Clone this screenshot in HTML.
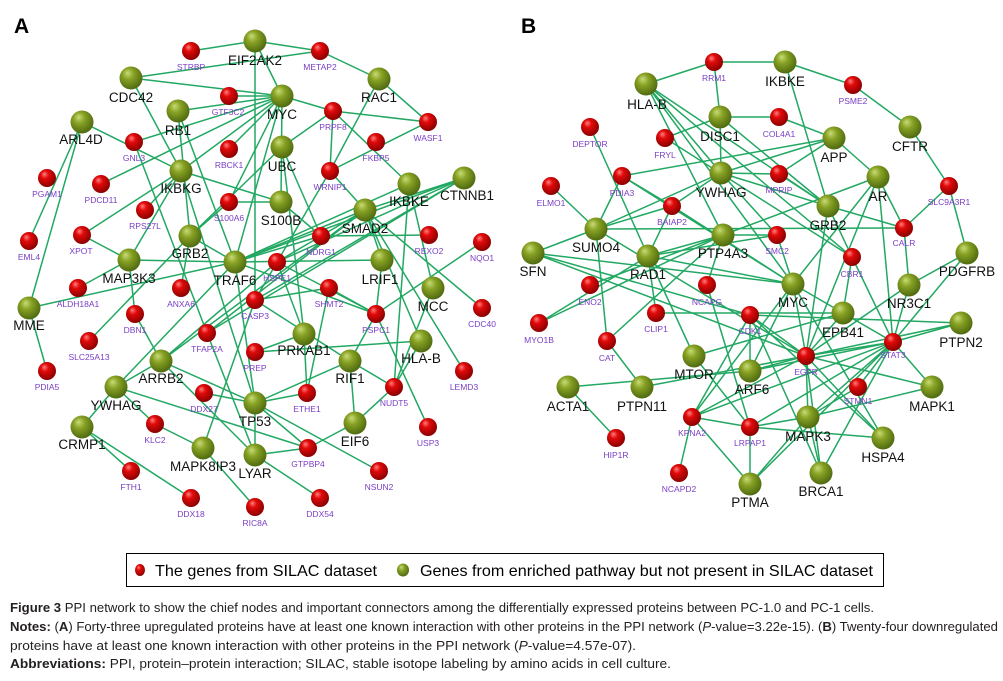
<!DOCTYPE html>
<html><head><meta charset="utf-8"><style>
html,body{margin:0;padding:0;background:#fff;}
svg{display:block;}
</style></head><body>
<svg width="1003" height="681" viewBox="0 0 1003 681" xmlns="http://www.w3.org/2000/svg" font-family="'Liberation Sans', Arial, sans-serif">
<defs>
<radialGradient id="gr" cx="0.42" cy="0.38" r="0.62" fx="0.35" fy="0.28">
<stop offset="0" stop-color="#ff8080"/><stop offset="0.35" stop-color="#e20a0a"/><stop offset="1" stop-color="#8a0000"/></radialGradient>
<radialGradient id="gg" cx="0.42" cy="0.38" r="0.62" fx="0.35" fy="0.28">
<stop offset="0" stop-color="#c8dc78"/><stop offset="0.4" stop-color="#88a224"/><stop offset="1" stop-color="#4f6a10"/></radialGradient>
</defs>
<rect width="1003" height="681" fill="#fff"/>
<text x="14" y="33" font-size="21" font-weight="bold" fill="#000">A</text>
<text x="521" y="33" font-size="21" font-weight="bold" fill="#000">B</text>

<g stroke="#22a862" stroke-width="1.5" fill="none">
<!-- Panel A edges -->
<line x1="191" y1="51" x2="255" y2="41"/><line x1="131" y1="78" x2="320" y2="51"/><line x1="131" y1="78" x2="282" y2="96"/><line x1="131" y1="78" x2="181" y2="171"/>
<line x1="255" y1="41" x2="320" y2="51"/><line x1="255" y1="41" x2="255" y2="300"/><line x1="255" y1="41" x2="282" y2="96"/><line x1="282" y1="96" x2="333" y2="111"/>
<line x1="333" y1="111" x2="428" y2="122"/><line x1="320" y1="51" x2="379" y2="79"/><line x1="379" y1="79" x2="428" y2="122"/><line x1="379" y1="79" x2="330" y2="171"/>
<line x1="333" y1="111" x2="282" y2="147"/><line x1="333" y1="111" x2="330" y2="171"/><line x1="333" y1="111" x2="409" y2="184"/><line x1="330" y1="171" x2="428" y2="122"/>
<line x1="282" y1="96" x2="235" y2="262"/><line x1="282" y1="96" x2="281" y2="202"/><line x1="229" y1="96" x2="282" y2="96"/><line x1="178" y1="111" x2="282" y2="96"/>
<line x1="229" y1="149" x2="282" y2="96"/><line x1="134" y1="142" x2="282" y2="96"/><line x1="181" y1="171" x2="282" y2="96"/><line x1="229" y1="202" x2="282" y2="96"/>
<line x1="101" y1="184" x2="282" y2="96"/><line x1="282" y1="147" x2="321" y2="236"/><line x1="330" y1="171" x2="365" y2="210"/><line x1="330" y1="171" x2="255" y2="300"/>
<line x1="409" y1="184" x2="235" y2="262"/><line x1="409" y1="184" x2="433" y2="288"/><line x1="464" y1="178" x2="365" y2="210"/><line x1="464" y1="178" x2="277" y2="262"/>
<line x1="464" y1="178" x2="255" y2="300"/><line x1="321" y1="236" x2="429" y2="235"/><line x1="365" y1="210" x2="382" y2="260"/><line x1="365" y1="210" x2="235" y2="262"/>
<line x1="365" y1="210" x2="421" y2="341"/><line x1="365" y1="210" x2="482" y2="308"/><line x1="482" y1="242" x2="376" y2="314"/><line x1="365" y1="210" x2="464" y2="371"/>
<line x1="376" y1="314" x2="428" y2="427"/><line x1="433" y1="288" x2="394" y2="387"/><line x1="421" y1="341" x2="394" y2="387"/><line x1="255" y1="352" x2="421" y2="341"/>
<line x1="304" y1="334" x2="255" y2="352"/><line x1="350" y1="361" x2="394" y2="387"/><line x1="350" y1="361" x2="355" y2="423"/><line x1="350" y1="361" x2="376" y2="314"/>
<line x1="350" y1="361" x2="255" y2="403"/><line x1="350" y1="361" x2="255" y2="300"/><line x1="355" y1="423" x2="394" y2="387"/><line x1="355" y1="423" x2="308" y2="448"/>
<line x1="255" y1="403" x2="307" y2="393"/><line x1="255" y1="403" x2="379" y2="471"/><line x1="255" y1="403" x2="255" y2="455"/><line x1="255" y1="455" x2="308" y2="448"/>
<line x1="255" y1="455" x2="320" y2="498"/><line x1="203" y1="448" x2="255" y2="507"/><line x1="307" y1="393" x2="304" y2="334"/><line x1="329" y1="288" x2="376" y2="314"/>
<line x1="329" y1="288" x2="255" y2="300"/><line x1="277" y1="262" x2="376" y2="314"/><line x1="382" y1="260" x2="376" y2="314"/><line x1="304" y1="334" x2="277" y2="262"/>
<line x1="82" y1="122" x2="29" y2="241"/><line x1="82" y1="122" x2="29" y2="308"/><line x1="82" y1="122" x2="181" y2="171"/><line x1="134" y1="142" x2="207" y2="333"/>
<line x1="178" y1="111" x2="190" y2="236"/><line x1="178" y1="111" x2="235" y2="262"/><line x1="145" y1="210" x2="181" y2="171"/><line x1="82" y1="235" x2="129" y2="260"/>
<line x1="82" y1="235" x2="181" y2="171"/><line x1="190" y1="236" x2="229" y2="202"/><line x1="190" y1="236" x2="282" y2="147"/><line x1="190" y1="236" x2="235" y2="262"/>
<line x1="129" y1="260" x2="181" y2="171"/><line x1="129" y1="260" x2="135" y2="314"/><line x1="129" y1="260" x2="235" y2="262"/><line x1="78" y1="288" x2="129" y2="260"/>
<line x1="29" y1="308" x2="235" y2="262"/><line x1="29" y1="308" x2="47" y2="371"/><line x1="89" y1="341" x2="190" y2="236"/><line x1="135" y1="314" x2="161" y2="361"/>
<line x1="181" y1="288" x2="190" y2="236"/><line x1="207" y1="333" x2="464" y2="178"/><line x1="207" y1="333" x2="365" y2="210"/><line x1="207" y1="333" x2="255" y2="455"/>
<line x1="161" y1="361" x2="116" y2="387"/><line x1="161" y1="361" x2="255" y2="403"/><line x1="161" y1="361" x2="365" y2="210"/><line x1="161" y1="361" x2="255" y2="455"/>
<line x1="116" y1="387" x2="82" y2="427"/><line x1="116" y1="387" x2="155" y2="424"/><line x1="116" y1="387" x2="308" y2="448"/><line x1="116" y1="387" x2="235" y2="262"/>
<line x1="82" y1="427" x2="131" y2="471"/><line x1="82" y1="427" x2="191" y2="498"/><line x1="155" y1="424" x2="203" y2="448"/><line x1="203" y1="448" x2="255" y2="300"/>
<line x1="204" y1="393" x2="255" y2="403"/><line x1="255" y1="403" x2="308" y2="448"/><line x1="161" y1="361" x2="277" y2="262"/><line x1="181" y1="171" x2="281" y2="202"/>
<line x1="181" y1="171" x2="255" y2="403"/><line x1="281" y1="202" x2="321" y2="236"/><line x1="277" y1="262" x2="365" y2="210"/><line x1="321" y1="236" x2="235" y2="262"/>
<line x1="329" y1="288" x2="307" y2="393"/><line x1="235" y1="262" x2="376" y2="314"/><line x1="235" y1="262" x2="255" y2="403"/>
<line x1="229" y1="202" x2="281" y2="202"/><line x1="235" y1="262" x2="382" y2="260"/><line x1="235" y1="262" x2="464" y2="178"/><line x1="282" y1="147" x2="304" y2="334"/><line x1="409" y1="184" x2="394" y2="387"/>
<!-- Panel B edges -->
<line x1="714" y1="62" x2="646" y2="84"/><line x1="714" y1="62" x2="785" y2="62"/><line x1="714" y1="62" x2="720" y2="117"/><line x1="785" y1="62" x2="853" y2="85"/>
<line x1="785" y1="62" x2="828" y2="206"/><line x1="853" y1="85" x2="910" y2="127"/><line x1="910" y1="127" x2="949" y2="186"/><line x1="949" y1="186" x2="967" y2="253"/>
<line x1="949" y1="186" x2="904" y2="228"/><line x1="720" y1="117" x2="779" y2="117"/><line x1="720" y1="117" x2="665" y2="138"/><line x1="720" y1="117" x2="721" y2="173"/>
<line x1="720" y1="117" x2="828" y2="206"/><line x1="779" y1="117" x2="834" y2="138"/><line x1="721" y1="173" x2="779" y2="174"/><line x1="646" y1="84" x2="721" y2="173"/>
<line x1="646" y1="84" x2="828" y2="206"/><line x1="646" y1="84" x2="793" y2="284"/><line x1="646" y1="84" x2="723" y2="235"/><line x1="646" y1="84" x2="852" y2="257"/>
<line x1="590" y1="127" x2="648" y2="256"/><line x1="665" y1="138" x2="852" y2="257"/><line x1="622" y1="176" x2="596" y2="229"/><line x1="622" y1="176" x2="672" y2="206"/>
<line x1="622" y1="176" x2="834" y2="138"/><line x1="622" y1="176" x2="793" y2="284"/><line x1="551" y1="186" x2="596" y2="229"/><line x1="672" y1="206" x2="648" y2="256"/>
<line x1="672" y1="206" x2="721" y2="173"/><line x1="672" y1="206" x2="793" y2="284"/><line x1="721" y1="173" x2="828" y2="206"/><line x1="721" y1="173" x2="834" y2="138"/>
<line x1="721" y1="173" x2="777" y2="235"/><line x1="596" y1="229" x2="904" y2="228"/><line x1="596" y1="229" x2="533" y2="253"/><line x1="596" y1="229" x2="607" y2="341"/>
<line x1="596" y1="229" x2="721" y2="173"/><line x1="596" y1="229" x2="806" y2="356"/><line x1="723" y1="235" x2="878" y2="177"/><line x1="723" y1="235" x2="648" y2="256"/>
<line x1="723" y1="235" x2="539" y2="323"/><line x1="723" y1="235" x2="707" y2="285"/><line x1="723" y1="235" x2="607" y2="341"/><line x1="723" y1="235" x2="777" y2="235"/>
<line x1="723" y1="235" x2="590" y2="285"/><line x1="533" y1="253" x2="793" y2="284"/><line x1="533" y1="253" x2="750" y2="315"/><line x1="533" y1="253" x2="806" y2="356"/>
<line x1="596" y1="229" x2="672" y2="206"/>
<line x1="648" y1="256" x2="694" y2="356"/><line x1="648" y1="256" x2="793" y2="284"/><line x1="648" y1="256" x2="777" y2="235"/><line x1="648" y1="256" x2="656" y2="313"/>
<line x1="539" y1="323" x2="648" y2="256"/><line x1="656" y1="313" x2="843" y2="313"/><line x1="707" y1="285" x2="750" y2="427"/><line x1="607" y1="341" x2="642" y2="387"/>
<line x1="568" y1="387" x2="750" y2="371"/><line x1="568" y1="387" x2="616" y2="438"/><line x1="642" y1="387" x2="806" y2="356"/><line x1="694" y1="356" x2="843" y2="313"/>
<line x1="694" y1="356" x2="750" y2="427"/><line x1="692" y1="417" x2="679" y2="473"/><line x1="692" y1="417" x2="750" y2="427"/><line x1="692" y1="417" x2="750" y2="484"/>
<line x1="692" y1="417" x2="806" y2="356"/><line x1="692" y1="417" x2="893" y2="342"/><line x1="692" y1="417" x2="750" y2="315"/><line x1="692" y1="417" x2="793" y2="284"/>
<line x1="750" y1="427" x2="750" y2="484"/><line x1="750" y1="427" x2="808" y2="417"/><line x1="750" y1="427" x2="883" y2="438"/><line x1="750" y1="427" x2="893" y2="342"/>
<line x1="750" y1="371" x2="806" y2="356"/><line x1="750" y1="371" x2="750" y2="315"/><line x1="750" y1="371" x2="893" y2="342"/><line x1="750" y1="371" x2="793" y2="284"/>
<line x1="750" y1="315" x2="806" y2="356"/><line x1="750" y1="315" x2="883" y2="438"/><line x1="750" y1="315" x2="821" y2="473"/><line x1="750" y1="315" x2="961" y2="323"/>
<line x1="806" y1="356" x2="893" y2="342"/><line x1="806" y1="356" x2="932" y2="387"/><line x1="806" y1="356" x2="961" y2="323"/><line x1="806" y1="356" x2="883" y2="438"/>
<line x1="806" y1="356" x2="808" y2="417"/><line x1="806" y1="356" x2="843" y2="313"/><line x1="806" y1="356" x2="828" y2="206"/><line x1="806" y1="356" x2="793" y2="284"/>
<line x1="806" y1="356" x2="878" y2="177"/><line x1="893" y1="342" x2="961" y2="323"/><line x1="893" y1="342" x2="932" y2="387"/><line x1="893" y1="342" x2="808" y2="417"/>
<line x1="893" y1="342" x2="858" y2="387"/><line x1="893" y1="342" x2="909" y2="285"/><line x1="893" y1="342" x2="878" y2="177"/><line x1="893" y1="342" x2="967" y2="253"/>
<line x1="893" y1="342" x2="821" y2="473"/><line x1="893" y1="342" x2="843" y2="313"/><line x1="893" y1="342" x2="852" y2="257"/><line x1="808" y1="417" x2="932" y2="387"/>
<line x1="808" y1="417" x2="821" y2="473"/><line x1="808" y1="417" x2="750" y2="484"/><line x1="909" y1="285" x2="967" y2="253"/><line x1="909" y1="285" x2="904" y2="228"/>
<line x1="909" y1="285" x2="806" y2="356"/><line x1="904" y1="228" x2="828" y2="206"/><line x1="904" y1="228" x2="878" y2="177"/><line x1="878" y1="177" x2="834" y2="138"/>
<line x1="878" y1="177" x2="793" y2="284"/><line x1="828" y1="206" x2="852" y2="257"/><line x1="828" y1="206" x2="779" y2="174"/><line x1="852" y1="257" x2="843" y2="313"/>
<line x1="777" y1="235" x2="793" y2="284"/><line x1="779" y1="174" x2="834" y2="138"/><line x1="793" y1="284" x2="843" y2="313"/><line x1="858" y1="387" x2="808" y2="417"/>
<line x1="750" y1="484" x2="893" y2="342"/><line x1="821" y1="473" x2="806" y2="356"/><line x1="793" y1="284" x2="883" y2="438"/>
</g>

<!-- Red nodes -->
<g fill="url(#gr)">
<circle cx="191" cy="51" r="9"/><circle cx="320" cy="51" r="9"/><circle cx="229" cy="96" r="9"/><circle cx="333" cy="111" r="9"/><circle cx="428" cy="122" r="9"/>
<circle cx="134" cy="142" r="9"/><circle cx="229" cy="149" r="9"/><circle cx="376" cy="142" r="9"/><circle cx="330" cy="171" r="9"/><circle cx="47" cy="178" r="9"/>
<circle cx="101" cy="184" r="9"/><circle cx="229" cy="202" r="9"/><circle cx="145" cy="210" r="9"/><circle cx="82" cy="235" r="9"/><circle cx="321" cy="236" r="9"/>
<circle cx="429" cy="235" r="9"/><circle cx="29" cy="241" r="9"/><circle cx="482" cy="242" r="9"/><circle cx="277" cy="262" r="9"/><circle cx="78" cy="288" r="9"/>
<circle cx="181" cy="288" r="9"/><circle cx="329" cy="288" r="9"/><circle cx="255" cy="300" r="9"/><circle cx="135" cy="314" r="9"/><circle cx="376" cy="314" r="9"/>
<circle cx="482" cy="308" r="9"/><circle cx="207" cy="333" r="9"/><circle cx="89" cy="341" r="9"/><circle cx="255" cy="352" r="9"/><circle cx="47" cy="371" r="9"/>
<circle cx="464" cy="371" r="9"/><circle cx="394" cy="387" r="9"/><circle cx="204" cy="393" r="9"/><circle cx="307" cy="393" r="9"/><circle cx="155" cy="424" r="9"/>
<circle cx="428" cy="427" r="9"/><circle cx="308" cy="448" r="9"/><circle cx="131" cy="471" r="9"/><circle cx="379" cy="471" r="9"/><circle cx="191" cy="498" r="9"/>
<circle cx="320" cy="498" r="9"/><circle cx="255" cy="507" r="9"/>
<circle cx="714" cy="62" r="9"/><circle cx="853" cy="85" r="9"/><circle cx="779" cy="117" r="9"/><circle cx="590" cy="127" r="9"/><circle cx="665" cy="138" r="9"/>
<circle cx="622" cy="176" r="9"/><circle cx="779" cy="174" r="9"/><circle cx="551" cy="186" r="9"/><circle cx="949" cy="186" r="9"/><circle cx="672" cy="206" r="9"/>
<circle cx="904" cy="228" r="9"/><circle cx="777" cy="235" r="9"/><circle cx="852" cy="257" r="9"/><circle cx="590" cy="285" r="9"/><circle cx="707" cy="285" r="9"/>
<circle cx="750" cy="315" r="9"/><circle cx="656" cy="313" r="9"/><circle cx="539" cy="323" r="9"/><circle cx="607" cy="341" r="9"/><circle cx="893" cy="342" r="9"/>
<circle cx="806" cy="356" r="9"/><circle cx="858" cy="387" r="9"/><circle cx="692" cy="417" r="9"/><circle cx="750" cy="427" r="9"/><circle cx="616" cy="438" r="9"/>
<circle cx="679" cy="473" r="9"/>
</g>
<!-- Green nodes -->
<g fill="url(#gg)">
<circle cx="255" cy="41" r="11.5"/><circle cx="131" cy="78" r="11.5"/><circle cx="178" cy="111" r="11.5"/><circle cx="282" cy="96" r="11.5"/><circle cx="379" cy="79" r="11.5"/>
<circle cx="82" cy="122" r="11.5"/><circle cx="282" cy="147" r="11.5"/><circle cx="181" cy="171" r="11.5"/><circle cx="409" cy="184" r="11.5"/><circle cx="464" cy="178" r="11.5"/>
<circle cx="281" cy="202" r="11.5"/><circle cx="365" cy="210" r="11.5"/><circle cx="190" cy="236" r="11.5"/><circle cx="129" cy="260" r="11.5"/><circle cx="235" cy="262" r="11.5"/>
<circle cx="382" cy="260" r="11.5"/><circle cx="433" cy="288" r="11.5"/><circle cx="29" cy="308" r="11.5"/><circle cx="304" cy="334" r="11.5"/><circle cx="421" cy="341" r="11.5"/>
<circle cx="161" cy="361" r="11.5"/><circle cx="350" cy="361" r="11.5"/><circle cx="116" cy="387" r="11.5"/><circle cx="255" cy="403" r="11.5"/><circle cx="355" cy="423" r="11.5"/>
<circle cx="82" cy="427" r="11.5"/><circle cx="203" cy="448" r="11.5"/><circle cx="255" cy="455" r="11.5"/>
<circle cx="785" cy="62" r="11.5"/><circle cx="646" cy="84" r="11.5"/><circle cx="720" cy="117" r="11.5"/><circle cx="910" cy="127" r="11.5"/><circle cx="834" cy="138" r="11.5"/>
<circle cx="721" cy="173" r="11.5"/><circle cx="878" cy="177" r="11.5"/><circle cx="828" cy="206" r="11.5"/><circle cx="596" cy="229" r="11.5"/><circle cx="723" cy="235" r="11.5"/>
<circle cx="533" cy="253" r="11.5"/><circle cx="967" cy="253" r="11.5"/><circle cx="648" cy="256" r="11.5"/><circle cx="793" cy="284" r="11.5"/><circle cx="909" cy="285" r="11.5"/>
<circle cx="843" cy="313" r="11.5"/><circle cx="961" cy="323" r="11.5"/><circle cx="694" cy="356" r="11.5"/><circle cx="750" cy="371" r="11.5"/><circle cx="568" cy="387" r="11.5"/>
<circle cx="642" cy="387" r="11.5"/><circle cx="932" cy="387" r="11.5"/><circle cx="808" cy="417" r="11.5"/><circle cx="883" cy="438" r="11.5"/><circle cx="821" cy="473" r="11.5"/>
<circle cx="750" cy="484" r="11.5"/>
</g>

<!-- Red labels -->
<g font-size="8.5" fill="#7a3ec6" text-anchor="middle">
<text x="191" y="70">STRBP</text><text x="320" y="70">METAP2</text><text x="228" y="115">GTF3C2</text><text x="333" y="130">PRPF8</text><text x="428" y="141">WASF1</text>
<text x="134" y="161">GNL3</text><text x="229" y="168">RBCK1</text><text x="376" y="161">FKBP5</text><text x="330" y="190">WRNIP1</text><text x="47" y="197">PGAM1</text>
<text x="101" y="203">PDCD11</text><text x="229" y="221">S100A6</text><text x="145" y="229">RPS27L</text><text x="81" y="254">XPOT</text><text x="321" y="255">NDRG1</text>
<text x="429" y="254">REXO2</text><text x="29" y="260">EML4</text><text x="482" y="261">NQO1</text><text x="277" y="281">HSPE1</text><text x="78" y="307">ALDH18A1</text>
<text x="181" y="307">ANXA6</text><text x="329" y="307">SHMT2</text><text x="255" y="319">CASP3</text><text x="135" y="333">DBN1</text><text x="376" y="333">PSPC1</text>
<text x="482" y="327">CDC40</text><text x="207" y="352">TFAP2A</text><text x="89" y="360">SLC25A13</text><text x="255" y="371">PREP</text><text x="47" y="390">PDIA5</text>
<text x="464" y="390">LEMD3</text><text x="394" y="406">NUDT5</text><text x="204" y="412">DDX27</text><text x="307" y="412">ETHE1</text><text x="155" y="443">KLC2</text>
<text x="428" y="446">USP3</text><text x="308" y="467">GTPBP4</text><text x="131" y="490">FTH1</text><text x="379" y="490">NSUN2</text><text x="191" y="517">DDX18</text>
<text x="320" y="517">DDX54</text><text x="255" y="526">RIC8A</text>
<text x="714" y="81">RRM1</text><text x="853" y="104">PSME2</text><text x="779" y="137">COL4A1</text><text x="590" y="147">DEPTOR</text><text x="665" y="158">FRYL</text>
<text x="622" y="196">PDIA3</text><text x="779" y="193">MPRIP</text><text x="551" y="206">ELMO1</text><text x="949" y="205">SLC9A3R1</text><text x="672" y="225">BAIAP2</text>
<text x="904" y="246">CALR</text><text x="777" y="254">SMC2</text><text x="852" y="277">CBR1</text><text x="590" y="305">ENO2</text><text x="707" y="305">NCAPG</text>
<text x="750" y="334">CDK1</text><text x="656" y="332">CLIP1</text><text x="539" y="343">MYO1B</text><text x="607" y="361">CAT</text><text x="893" y="358">STAT3</text>
<text x="806" y="375">EGFR</text><text x="858" y="404">STMN1</text><text x="692" y="436">KPNA2</text><text x="750" y="446">LRPAP1</text><text x="616" y="458">HIP1R</text>
<text x="679" y="492">NCAPD2</text>
</g>
<!-- Green labels -->
<g font-size="13.5" fill="#111" text-anchor="middle">
<text x="255" y="65">EIF2AK2</text><text x="131" y="102">CDC42</text><text x="178" y="135">RB1</text><text x="282" y="119">MYC</text><text x="379" y="102">RAC1</text>
<text x="81" y="144">ARL4D</text><text x="282" y="171">UBC</text><text x="181" y="193">IKBKG</text><text x="409" y="206">IKBKE</text><text x="467" y="200">CTNNB1</text>
<text x="281" y="225">S100B</text><text x="365" y="233">SMAD2</text><text x="190" y="258">GRB2</text><text x="129" y="283">MAP3K3</text><text x="235" y="285">TRAF6</text>
<text x="380" y="284">LRIF1</text><text x="433" y="311">MCC</text><text x="29" y="330">MME</text><text x="304" y="355">PRKAB1</text><text x="421" y="363">HLA-B</text>
<text x="161" y="383">ARRB2</text><text x="350" y="383">RIF1</text><text x="116" y="410">YWHAG</text><text x="255" y="426">TP53</text><text x="355" y="446">EIF6</text>
<text x="82" y="449">CRMP1</text><text x="203" y="471">MAPK8IP3</text><text x="255" y="478">LYAR</text>
<text x="785" y="86">IKBKE</text><text x="647" y="109">HLA-B</text><text x="720" y="141">DISC1</text><text x="910" y="151">CFTR</text><text x="834" y="162">APP</text>
<text x="721" y="197">YWHAG</text><text x="878" y="201">AR</text><text x="828" y="230">GRB2</text><text x="596" y="252">SUMO4</text><text x="723" y="258">PTP4A3</text>
<text x="533" y="276">SFN</text><text x="967" y="276">PDGFRB</text><text x="648" y="279">RAD1</text><text x="793" y="307">MYC</text><text x="909" y="308">NR3C1</text>
<text x="843" y="337">EPB41</text><text x="961" y="347">PTPN2</text><text x="694" y="379">MTOR</text><text x="752" y="394">ARF6</text><text x="568" y="411">ACTA1</text>
<text x="642" y="411">PTPN11</text><text x="932" y="411">MAPK1</text><text x="808" y="441">MAPK3</text><text x="883" y="462">HSPA4</text><text x="821" y="496">BRCA1</text>
<text x="750" y="507">PTMA</text>
</g>

<!-- Legend -->
<rect x="126.5" y="553.5" width="757" height="33" fill="#fff" stroke="#000" stroke-width="1"/>
<ellipse cx="140" cy="570" rx="5" ry="6" fill="url(#gr)"/>
<text x="155" y="576" font-size="16" fill="#000" textLength="222" lengthAdjust="spacingAndGlyphs">The genes from SILAC dataset</text>
<ellipse cx="403" cy="570" rx="6" ry="6.5" fill="url(#gg)"/>
<text x="420" y="576" font-size="16" fill="#000" textLength="453" lengthAdjust="spacingAndGlyphs">Genes from enriched pathway but not present in SILAC dataset</text>

<!-- Caption -->
<g font-size="12.5" fill="#231f20">
<text x="10" y="612" textLength="864" lengthAdjust="spacingAndGlyphs"><tspan font-weight="bold">Figure 3</tspan> PPI network to show the chief nodes and important connectors among the differentially expressed proteins between PC-1.0 and PC-1 cells.</text>
<text x="10" y="631" textLength="988" lengthAdjust="spacingAndGlyphs"><tspan font-weight="bold">Notes:</tspan> (<tspan font-weight="bold">A</tspan>) Forty-three upregulated proteins have at least one known interaction with other proteins in the PPI network (<tspan font-style="italic">P</tspan>-value=3.22e-15). (<tspan font-weight="bold">B</tspan>) Twenty-four downregulated</text>
<text x="10" y="650" textLength="626" lengthAdjust="spacingAndGlyphs">proteins have at least one known interaction with other proteins in the PPI network (<tspan font-style="italic">P</tspan>-value=4.57e-07).</text>
<text x="10" y="668" textLength="661" lengthAdjust="spacingAndGlyphs"><tspan font-weight="bold">Abbreviations:</tspan> PPI, protein–protein interaction; SILAC, stable isotope labeling by amino acids in cell culture.</text>
</g>
</svg>
</body></html>
